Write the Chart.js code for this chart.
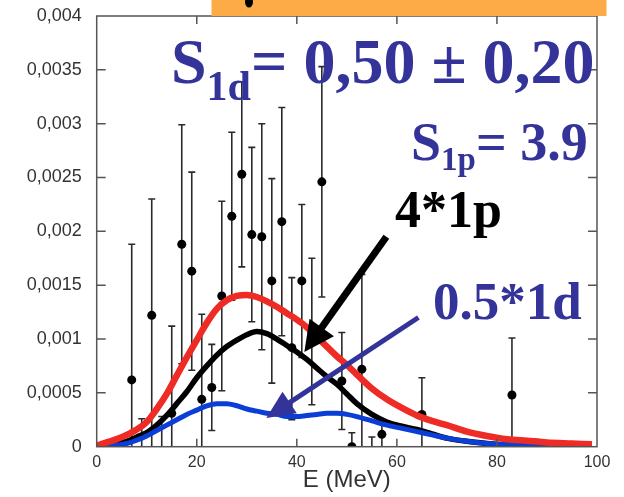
<!DOCTYPE html>
<html>
<head>
<meta charset="utf-8">
<script src="https://cdn.jsdelivr.net/npm/chart.js@4.4.1/dist/chart.umd.min.js"></script>
<style>
html, body { margin: 0; padding: 0; background: #fff; }
#wrap { position: relative; width: 624px; height: 497px; }
</style>
</head>
<body>
<div id="wrap"><canvas id="chart" width="624" height="497"></canvas></div>
<script>
// measured points, E in MeV
const dataE = [7, 9, 11, 13, 15, 17, 19, 21, 23, 25, 27, 29, 31, 33, 35, 37, 39, 41, 43, 45, 49, 51, 53, 55, 57, 65, 83];
const dataY = [0.00062, -0.0001, 0.00122, -0.0001, 0.00031, 0.00188, 0.00163, 0.00044, 0.00055, 0.0014, 0.00214, 0.00253, 0.00197, 0.00195, 0.00154, 0.00209, 0.00092, 0.00154, 0.00107, 0.00246, 0.00061, 0, 0.00072, -0.0001, 0.000115, 0.0003, 0.00048];
const errHi = [0.00126, 0.00036, 0.00108, 0.00038, 0.00081, 0.00111, 0.00092, 0.00079, 0.0004, 0.00088, 0.00078, 0.00086, 0.00081, 0.00105, 0.00095, 0.00106, 0.00065, 0.00071, 0.00068, 0.00107, 0.00045, 0.00013, 0.00088, 0.00019, 0.00012, 0.00034, 0.00053];
const errLo = [0.00126, 0.00036, 0.00122, 0.00038, 0.00081, 0.00111, 0.00092, 0.00079, 0.0004, 0.00088, 0.00078, 0.00086, 0.00081, 0.00105, 0.00095, 0.00106, 0.00067, 0.00071, 0.00068, 0.00107, 0.00045, 0.00013, 0.00088, 0.00019, 0.00012, 0.00034, 0.00053];

// model curves
const curveE   = [0, 2, 4, 6, 8, 10, 12, 14, 16, 18, 20, 22, 24, 26, 28, 30, 32, 34, 36, 38, 40, 42, 44, 46, 48, 50, 52, 55, 58, 61, 64, 67, 70, 74, 78, 82, 86, 90, 95, 99];
const curveSum = [0.00001, 0.00004, 0.00007, 0.00011, 0.00016, 0.00023, 0.00035, 0.00049, 0.00066, 0.00083, 0.00099, 0.00115, 0.00128, 0.00136, 0.0014, 0.00141, 0.00139, 0.00135, 0.0013, 0.00124, 0.00118, 0.00111, 0.00102, 0.00093, 0.00084, 0.00076, 0.00067, 0.00054, 0.00044, 0.00036, 0.00029, 0.00024, 0.0002, 0.00014, 0.0001, 0.00007, 0.000055, 0.00004, 0.00003, 0.000022];
const curve1p  = [0, 0.00001, 0.00003, 0.00005, 0.00009, 0.00013, 0.0002, 0.00029, 0.0004, 0.00051, 0.00064, 0.00075, 0.00085, 0.00093, 0.00099, 0.00104, 0.00107, 0.00105, 0.001, 0.00094, 0.00088, 0.00081, 0.00073, 0.00065, 0.00058, 0.00049, 0.0004, 0.0003, 0.00023, 0.00019, 0.00016, 0.00012, 0.00008, 0.00005, 0.00003, 0.000015, 0.000008, 0.000003, 0, 0];
const curve1d  = [0, 0.000005, 0.000015, 0.00003, 0.00006, 0.0001, 0.00015, 0.0002, 0.00025, 0.0003, 0.00034, 0.00038, 0.0004, 0.0004, 0.00038, 0.00035, 0.00033, 0.00031, 0.0003, 0.00028, 0.00028, 0.00029, 0.0003, 0.00031, 0.00031, 0.0003, 0.00028, 0.00024, 0.0002, 0.00017, 0.00014, 0.00011, 0.00008, 0.00005, 0.00003, 0.000018, 0.00001, 0.000005, 0.000002, 0];

const yTickLabels = ['0', '0,0005', '0,001', '0,0015', '0,002', '0,0025', '0,003', '0,0035', '0,004'];

// annotation arrows in data units [E, value]
const arrow1p = { from: [57.9, 0.00195], to: [41.5, 0.00088] };
const arrow1d = { from: [64.3, 0.0012], to: [33.9, 0.000267] };

const AXIS = '#555';
const TEXT_BLUE = '#333399';

function toXY(xs, ys) {
    return xs.map((x, i) => ({ x: x, y: ys[i] }));
}

function drawArrow(ctx, x0, y0, x1, y1, lw, headLen, headHalf, color) {
    const dx = x1 - x0, dy = y1 - y0;
    const len = Math.hypot(dx, dy);
    const ux = dx / len, uy = dy / len;
    const bx = x1 - ux * headLen, by = y1 - uy * headLen;
    ctx.save();
    ctx.strokeStyle = color;
    ctx.fillStyle = color;
    ctx.lineWidth = lw;
    ctx.beginPath();
    ctx.moveTo(x0, y0);
    ctx.lineTo(bx + ux * 2, by + uy * 2);
    ctx.stroke();
    ctx.beginPath();
    ctx.moveTo(x1, y1);
    ctx.lineTo(bx - uy * headHalf, by + ux * headHalf);
    ctx.lineTo(bx + uy * headHalf, by - ux * headHalf);
    ctx.closePath();
    ctx.fill();
    ctx.restore();
}

// text with a subscript: main, sub, rest
function drawSubText(ctx, x, y, main, sub, rest, size, subSize, subDrop, color) {
    ctx.save();
    ctx.fillStyle = color;
    ctx.textBaseline = 'alphabetic';
    ctx.textAlign = 'left';
    ctx.font = 'bold ' + size + 'px "Liberation Serif", "Times New Roman", serif';
    ctx.fillText(main, x, y);
    x += ctx.measureText(main).width;
    ctx.font = 'bold ' + subSize + 'px "Liberation Serif", "Times New Roman", serif';
    ctx.fillText(sub, x, y + subDrop);
    x += ctx.measureText(sub).width;
    ctx.font = 'bold ' + size + 'px "Liberation Serif", "Times New Roman", serif';
    ctx.fillText(rest, x, y);
    ctx.restore();
}

const framePlugin = {
    id: 'frame',
    beforeDatasetsDraw(chart) {
        // error bars behind everything
        const ctx = chart.ctx, xs = chart.scales.x, ys = chart.scales.y, a = chart.chartArea;
        ctx.save();
        ctx.beginPath();
        ctx.rect(a.left, a.top, a.right - a.left, a.bottom - a.top);
        ctx.clip();
        ctx.strokeStyle = '#2a2a2a';
        ctx.lineWidth = 1.6;
        dataE.forEach((e, i) => {
            const px = xs.getPixelForValue(e);
            const hi = dataY[i] + errHi[i];
            const lo = dataY[i] - errLo[i];
            const pTop = ys.getPixelForValue(hi);
            const pBot = ys.getPixelForValue(Math.max(lo, 0));
            ctx.beginPath();
            ctx.moveTo(px, pTop);
            ctx.lineTo(px, pBot);
            ctx.moveTo(px - 3.5, pTop);
            ctx.lineTo(px + 3.5, pTop);
            if (lo > 0) {
                ctx.moveTo(px - 3.5, pBot);
                ctx.lineTo(px + 3.5, pBot);
            }
            ctx.stroke();
        });
        ctx.restore();
    },
    afterDatasetsDraw(chart) {
        const ctx = chart.ctx, xs = chart.scales.x, ys = chart.scales.y, a = chart.chartArea;
        ctx.save();
        // box
        ctx.strokeStyle = AXIS;
        ctx.lineWidth = 1.5;
        ctx.strokeRect(a.left, a.top, a.right - a.left, a.bottom - a.top);
        // inward ticks
        ctx.beginPath();
        xs.ticks.forEach(t => {
            const px = xs.getPixelForValue(t.value);
            if (t.value <= 0 || t.value >= 100) return;
            ctx.moveTo(px, a.bottom); ctx.lineTo(px, a.bottom - 8);
            ctx.moveTo(px, a.top); ctx.lineTo(px, a.top + 8);
        });
        ys.ticks.forEach(t => {
            const py = ys.getPixelForValue(t.value);
            if (t.value <= 0 || t.value >= 0.004) return;
            ctx.moveTo(a.left, py); ctx.lineTo(a.left + 9, py);
            ctx.moveTo(a.right, py); ctx.lineTo(a.right - 9, py);
        });
        ctx.stroke();
        ctx.restore();

        // arrows
        drawArrow(ctx, xs.getPixelForValue(arrow1p.from[0]), ys.getPixelForValue(arrow1p.from[1]),
            xs.getPixelForValue(arrow1p.to[0]), ys.getPixelForValue(arrow1p.to[1]), 7, 30, 15, '#000');
        drawArrow(ctx, xs.getPixelForValue(arrow1d.from[0]), ys.getPixelForValue(arrow1d.from[1]),
            xs.getPixelForValue(arrow1d.to[0]), ys.getPixelForValue(arrow1d.to[1]), 5, 28, 13, TEXT_BLUE);

        // labels
        drawSubText(ctx, 171, 83, 'S', '1d', '= 0,50 \u00b1 0,20', 64, 42, 17, TEXT_BLUE);
        drawSubText(ctx, 411, 160, 'S', '1p', '= 3.9', 54, 33, 10, TEXT_BLUE);
        ctx.save();
        ctx.textBaseline = 'alphabetic';
        ctx.font = 'bold 52px "Liberation Serif", "Times New Roman", serif';
        ctx.fillStyle = '#000';
        ctx.fillText('4*1p', 395, 227);
        ctx.font = 'bold 53px "Liberation Serif", "Times New Roman", serif';
        ctx.fillStyle = TEXT_BLUE;
        ctx.fillText('0.5*1d', 433, 319);

        // orange banner cut at the top
        ctx.fillStyle = '#fdab47';
        ctx.fillRect(211.5, 0, 395, 16);
        ctx.fillStyle = '#000';
        ctx.beginPath();
        ctx.ellipse(249, 2, 4, 5.5, 0, 0, Math.PI * 2);
        ctx.fill();
        ctx.restore();
    }
};

new Chart(document.getElementById('chart'), {
    type: 'scatter',
    data: {
        datasets: [
            {
                label: 'sum',
                data: toXY(curveE, curveSum),
                showLine: true,
                borderColor: '#ee2b24',
                borderWidth: 6.5,
                pointRadius: 0,
                cubicInterpolationMode: 'monotone',
                order: 1
            },
            {
                label: '0.5*1d',
                data: toXY(curveE, curve1d),
                showLine: true,
                borderColor: '#0a3ed6',
                borderWidth: 5,
                pointRadius: 0,
                cubicInterpolationMode: 'monotone',
                order: 2
            },
            {
                label: '4*1p',
                data: toXY(curveE, curve1p),
                showLine: true,
                borderColor: '#000',
                borderWidth: 5.5,
                pointRadius: 0,
                cubicInterpolationMode: 'monotone',
                order: 3
            },
            {
                label: 'data',
                data: toXY(dataE, dataY),
                showLine: false,
                pointRadius: 4.5,
                pointBorderWidth: 0,
                pointBackgroundColor: '#000',
                pointStyle: 'circle',
                order: 4
            }
        ]
    },
    options: {
        responsive: false,
        animation: false,
        devicePixelRatio: 1,
        layout: { padding: { left: 0, right: 27, top: 16, bottom: 0 } },
        plugins: {
            legend: { display: false },
            tooltip: { enabled: false }
        },
        scales: {
            x: {
                type: 'linear',
                min: 0,
                max: 100,
                ticks: {
                    stepSize: 20,
                    padding: 6,
                    maxRotation: 0,
                    color: '#333',
                    font: { family: '"Liberation Sans", Arial, sans-serif', size: 16 }
                },
                grid: { display: false, drawTicks: false },
                border: { display: false },
                title: {
                    display: true,
                    text: 'E (MeV)',
                    color: '#333',
                    padding: { top: 0, bottom: 2 },
                    font: { family: '"Liberation Sans", Arial, sans-serif', size: 24 }
                },
                afterFit: s => { s.height = 50.3; s.paddingLeft = 0; s.paddingRight = 0; }
            },
            y: {
                min: 0,
                max: 0.004,
                ticks: {
                    stepSize: 0.0005,
                    padding: 15,
                    color: '#333',
                    font: { family: '"Liberation Sans", Arial, sans-serif', size: 18 },
                    callback: (v, i) => yTickLabels[i]
                },
                grid: { display: false, drawTicks: false },
                border: { display: false },
                afterFit: s => { s.width = 96.7; s.paddingTop = 0; s.paddingBottom = 0; }
            }
        }
    },
    plugins: [framePlugin]
});
</script>
</body>
</html>
